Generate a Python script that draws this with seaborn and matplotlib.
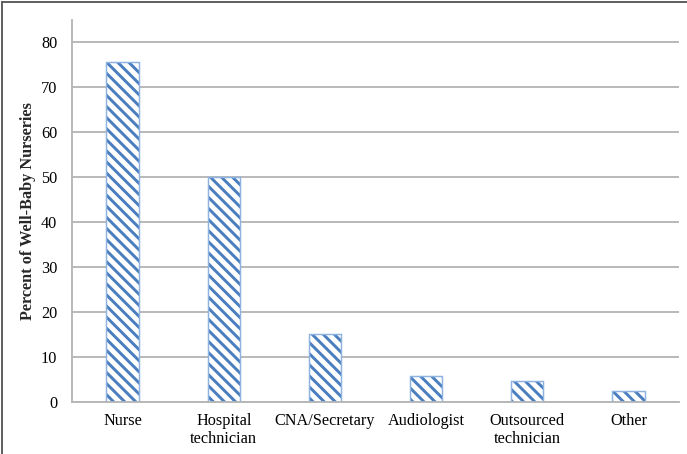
import matplotlib
matplotlib.use("Agg")
import matplotlib.pyplot as plt
import seaborn as sns
import pandas as pd
from matplotlib.lines import Line2D

categories = ["Nurse", "Hospital\ntechnician", "CNA/Secretary", "Audiologist",
              "Outsourced\ntechnician", "Other"]
percents = [75.6, 50.0, 15.1, 5.8, 4.7, 2.4]
y_ticks = [0, 10, 20, 30, 40, 50, 60, 70, 80]

df = pd.DataFrame({"role": categories, "pct": percents})

sns.set_style("white")
plt.rcParams["font.family"] = ["Liberation Serif", "DejaVu Serif"]
plt.rcParams["hatch.linewidth"] = 1.6

DPI = 133
fig = plt.figure(figsize=(687 / DPI, 454 / DPI), dpi=DPI)
ax = fig.add_axes([72 / 687, 1 - 402 / 454, (679 - 72) / 687, (402 - 20) / 454])

# hatched fill, then a thin light edge on top
sns.barplot(data=df, x="role", y="pct", ax=ax, color="white", width=0.32,
            hatch="\\\\\\\\", edgecolor="#4a7ebf", linewidth=0, saturation=1)
sns.barplot(data=df, x="role", y="pct", ax=ax, fill=False, width=0.32,
            edgecolor="#8fb3e0", linewidth=0.8)

ax.set_ylim(0, 85)
ax.set_yticks(y_ticks)
ax.set_xlim(-0.5, len(categories) - 0.5)
ax.yaxis.grid(True, color="#b5b5b5", linewidth=1.0)
ax.set_axisbelow(True)

for side in ["top", "right"]:
    ax.spines[side].set_visible(False)
ax.spines["left"].set_color("#b5b5b5")
ax.spines["bottom"].set_color("#b5b5b5")
ax.spines["left"].set_linewidth(1.0)
ax.spines["bottom"].set_linewidth(1.0)

ax.tick_params(axis="both", length=0, labelsize=8.8, colors="black")
ax.tick_params(axis="x", pad=6)
ax.tick_params(axis="y", pad=8)
ax.set_xlabel("")
ax.set_ylabel("Percent of Well-Baby Nurseries", fontsize=8.8, fontweight="bold")
ax.yaxis.set_label_coords(-0.06, 0.5)

# frame lines at top and left of the figure
fig.add_artist(Line2D([0.003, 1.0], [0.996, 0.996], transform=fig.transFigure,
                      color="#555555", linewidth=1.0))
fig.add_artist(Line2D([0.003, 0.003], [0.0, 0.996], transform=fig.transFigure,
                      color="#555555", linewidth=1.0))

fig.savefig("out.png", dpi=DPI)
